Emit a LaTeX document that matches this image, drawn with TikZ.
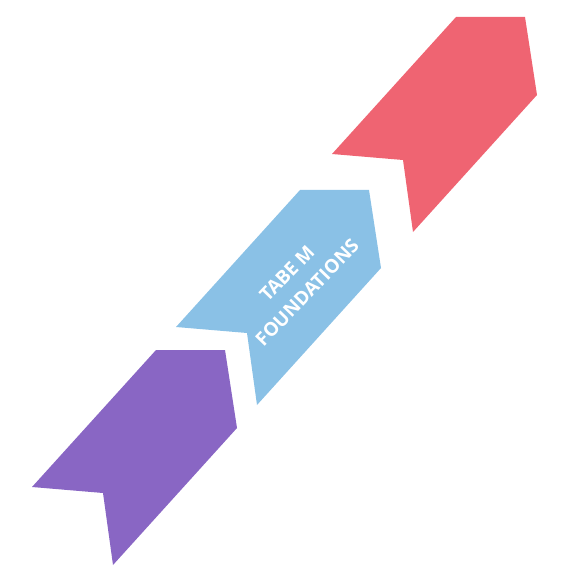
\documentclass[tikz,border=0pt]{standalone}
\usepackage{fontspec}
\setmainfont{Open Sans}
\usetikzlibrary{positioning}

\definecolor{ribbonpurple}{RGB}{137,102,196}
\definecolor{ribbonblue}{RGB}{138,193,230}
\definecolor{ribbonred}{RGB}{239,100,114}

\tikzset{
	ribbon/.style={fill=#1, draw=none},
	ribbon label/.style={text=white, font=\bfseries\fontsize{19}{28}\selectfont, align=center, rotate=46}
}

\begin{document}
\begin{tikzpicture}[x=1pt, y=-1pt]
	\useasboundingbox (0,0) rectangle (577,577);
	\foreach \px/\py/\col in {156/350/ribbonpurple, 300/190/ribbonblue, 456/17/ribbonred}
		\fill [ribbon=\col, shift={(\px,\py)}] (0,0) -- (69,0) -- (81,78) -- (-43,215) -- (-53,143) -- (-124,137) -- cycle;
	\node [ribbon label] (title) at (297,283) {TABE M\\FOUNDATIONS};
	
\end{tikzpicture}
\end{document}
